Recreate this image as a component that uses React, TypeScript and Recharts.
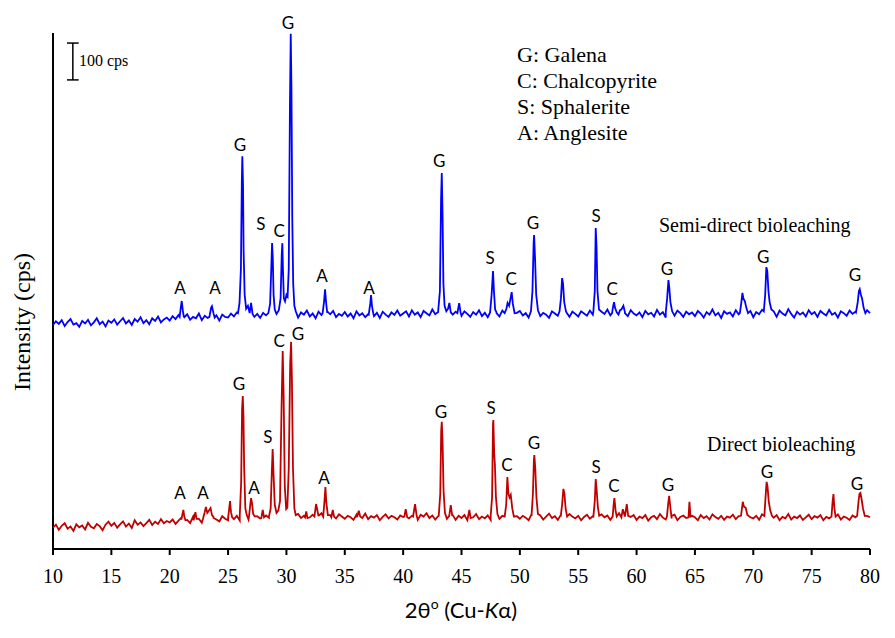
import { ComposedChart, Line, Scatter, XAxis, YAxis, ReferenceLine } from 'recharts'

// scan grid: 2θ from 10 to 80 every 0.25°
const GRID_START = 10
const GRID_STEP = 0.25

// background counts (cps), one row per 5°
const semiBackground = [
  608, 618, 611, 621, 605, 616, 624, 609, 613, 603, 619, 612, 622, 607, 615, 626, 610, 617, 604, 620,
  614, 623, 609, 618, 627, 612, 620, 608, 624, 617, 629, 613, 621, 610, 626, 619, 631, 615, 623, 628,
  620, 632, 624, 635, 618, 629, 637, 622, 630, 626, 639, 621, 633, 627, 641, 625, 634, 620, 636, 630,
  628, 639, 631, 642, 633, 626, 640, 635, 645, 630, 638, 627, 641, 634, 629, 643, 636, 631, 644, 638,
  633, 645, 630, 640, 628, 642, 636, 647, 631, 639, 626, 644, 635, 630, 641, 637, 646, 629, 638, 633,
  643, 631, 639, 626, 645, 634, 640, 629, 637, 648, 632, 641, 627, 644, 636, 630, 642, 635, 647, 633,
  639, 645, 631, 648, 636, 642, 629, 646, 640, 634, 650, 637, 643, 632, 647, 639, 651, 636, 644, 641,
  633, 645, 638, 630, 643, 636, 648, 632, 641, 629, 646, 637, 642, 631, 647, 640, 635, 644, 630, 641,
  646, 634, 640, 628, 643, 637, 649, 632, 641, 636, 627, 645, 639, 633, 648, 636, 642, 630, 644, 638,
  631, 645, 639, 633, 647, 636, 641, 629, 644, 638, 650, 634, 640, 628, 645, 637, 643, 632, 648, 639,
  634, 642, 629, 646, 637, 641, 631, 649, 636, 643, 628, 645, 638, 633, 647, 640, 630, 644, 637, 642,
  632, 646, 639, 628, 643, 636, 650, 634, 641, 627, 645, 638, 642, 631, 648, 637, 644, 633, 640, 646,
  629, 643, 637, 649, 632, 641, 636, 645, 630, 647, 639, 634, 651, 638, 628, 644, 636, 642, 631, 648,
  637, 643, 630, 646, 639, 634, 649, 636, 641, 628, 645, 640, 633, 647, 638, 644, 631, 642, 636, 648,
  640,
]

const directBackground = [
  58, 66, 52, 63, 70, 55, 61, 49, 67, 59, 64, 53, 71, 60, 56, 68, 62, 51, 66, 74,
  63, 71, 58, 67, 75, 61, 69, 57, 78, 66, 72, 62, 70, 79, 65, 74, 68, 81, 70, 76,
  72, 80, 68, 77, 85, 73, 79, 70, 88, 76, 82, 71, 84, 78, 74, 87, 80, 75, 89, 82,
  78, 86, 81, 90, 77, 84, 93, 80, 87, 76, 89, 83, 79, 91, 85, 80, 88, 82, 94, 86,
  83, 91, 79, 88, 95, 84, 90, 78, 86, 93, 81, 89, 97, 85, 80, 92, 87, 83, 94, 88,
  82, 90, 86, 79, 93, 88, 84, 96, 81, 89, 85, 92, 78, 87, 94, 83, 90, 86, 80, 91,
  87, 95, 83, 90, 86, 79, 93, 88, 97, 84, 91, 80, 89, 85, 94, 82, 88, 92, 79, 90,
  84, 92, 78, 89, 86, 95, 81, 88, 83, 91, 79, 94, 87, 82, 90, 85, 80, 93, 86, 89,
  82, 90, 85, 78, 94, 87, 83, 91, 80, 88, 96, 84, 89, 79, 92, 86, 81, 95, 88, 83,
  90, 78, 87, 93, 82, 89, 85, 80, 94, 86, 91, 79, 88, 84, 97, 83, 90, 81, 87, 92,
  79, 88, 84, 92, 77, 86, 90, 81, 95, 85, 80, 89, 83, 93, 78, 87, 91, 84, 80, 90,
  86, 78, 92, 84, 89, 80, 94, 87, 82, 90, 79, 88, 85, 93, 81, 89, 84, 78, 91, 86,
  83, 90, 79, 94, 86, 81, 89, 85, 92, 78, 87, 83, 95, 80, 88, 84, 91, 79, 86, 93,
  81, 89, 85, 92, 78, 87, 83, 90, 84, 94, 80, 88, 85, 79, 91, 86, 82, 89, 84, 90,
  86,
]

// reflections, [2θ, cps]
const semiPeaks: [number, number][][] = [
  [[20.85, 630], [20.97, 660], [21.03, 673], [21.12, 648], [21.2, 632]],
  [[23.4, 630], [23.55, 655], [23.62, 659], [23.75, 640], [23.85, 628]],
  [[25.85, 640], [25.98, 668], [26.1, 760], [26.18, 1000], [26.22, 1066], [26.28, 990], [26.33, 810], [26.42, 690],
   [26.55, 652], [26.7, 660], [26.85, 640], [26.97, 668], [27.1, 638]],
  [[28.45, 640], [28.6, 665], [28.7, 760], [28.77, 830], [28.83, 790], [28.9, 690], [29.0, 650], [29.15, 638],
   [29.35, 648], [29.5, 680], [29.6, 800], [29.65, 830], [29.7, 760], [29.78, 680], [29.88, 672], [30.0, 690],
   [30.1, 685], [30.2, 760], [30.3, 1200], [30.37, 1398], [30.43, 1250], [30.5, 900], [30.58, 720], [30.68, 660],
   [30.8, 645]],
  [[33.1, 640], [33.22, 670], [33.31, 705], [33.4, 668], [33.5, 645]],
  [[37.05, 636], [37.18, 665], [37.25, 689], [37.33, 660], [37.45, 638]],
  [[43.0, 645], [43.15, 700], [43.25, 950], [43.31, 1020], [43.38, 900], [43.45, 720], [43.55, 660], [43.7, 645],
   [43.85, 652], [43.96, 668], [44.08, 642]],
  [[44.65, 640], [44.8, 667], [44.92, 642]],
  [[47.45, 642], [47.58, 690], [47.7, 754], [47.78, 700], [47.88, 650], [48.0, 640]],
  [[48.7, 640], [48.85, 652], [48.95, 668], [49.08, 660], [49.2, 680], [49.3, 697], [49.4, 665], [49.55, 640]],
  [[50.95, 645], [51.08, 700], [51.18, 830], [51.22, 852], [51.3, 790], [51.4, 690], [51.55, 648]],
  [[53.4, 645], [53.52, 680], [53.62, 735], [53.7, 720], [53.8, 670], [53.95, 645]],
  [[56.3, 645], [56.42, 700], [56.5, 871], [56.57, 820], [56.65, 700], [56.78, 650]],
  [[57.9, 640], [58.0, 660], [58.07, 670], [58.15, 655], [58.3, 642], [58.45, 636], [58.58, 648], [58.7, 650],
   [58.87, 660], [59.0, 640]],
  [[62.5, 642], [62.62, 680], [62.73, 730], [62.8, 710], [62.9, 670], [63.05, 645]],
  [[68.85, 640], [68.98, 670], [69.07, 695], [69.15, 680], [69.28, 672], [69.4, 655], [69.55, 640]],
  [[70.9, 645], [71.02, 690], [71.12, 765], [71.2, 755], [71.3, 700], [71.4, 670], [71.55, 650]],
  [[78.8, 642], [78.95, 670], [79.05, 700], [79.12, 705], [79.22, 690], [79.32, 680], [79.45, 655], [79.6, 640]],
]

const directPeaks: [number, number][][] = [
  [[21.0, 80], [21.1, 96], [21.17, 106], [21.25, 88], [21.35, 78]],
  [[22.05, 78], [22.2, 100], [22.3, 82]],
  [[22.85, 82], [23.0, 100], [23.1, 114], [23.22, 98], [23.35, 104], [23.5, 111], [23.62, 92], [23.75, 84]],
  [[25.0, 84], [25.1, 110], [25.17, 130], [25.25, 100], [25.35, 86]],
  [[26.0, 90], [26.12, 180], [26.2, 380], [26.26, 415], [26.32, 360], [26.38, 220], [26.48, 110], [26.6, 92]],
  [[26.8, 90], [26.9, 120], [26.97, 138], [27.05, 125], [27.15, 95], [27.3, 88]],
  [[27.85, 84], [27.97, 106], [28.08, 86]],
  [[28.5, 88], [28.65, 110], [28.75, 210], [28.82, 271], [28.9, 200], [29.0, 120], [29.15, 98], [29.3, 104],
   [29.45, 130], [29.58, 380], [29.68, 537], [29.76, 420], [29.86, 170], [29.98, 108], [30.08, 112], [30.2, 220],
   [30.32, 500], [30.4, 562], [30.47, 460], [30.56, 220], [30.68, 110], [30.8, 92]],
  [[31.6, 86], [31.7, 102], [31.8, 84]],
  [[32.4, 88], [32.54, 122], [32.62, 110], [32.75, 90]],
  [[33.15, 88], [33.26, 130], [33.34, 168], [33.42, 125], [33.55, 92]],
  [[33.85, 86], [33.97, 106], [34.08, 88]],
  [[36.05, 86], [36.2, 104], [36.32, 88]],
  [[40.1, 88], [40.22, 108], [40.35, 86]],
  [[40.85, 88], [41.02, 122], [41.15, 92]],
  [[43.05, 90], [43.18, 150], [43.26, 320], [43.31, 345], [43.38, 290], [43.46, 160], [43.58, 98]],
  [[43.95, 90], [44.08, 119], [44.2, 92]],
  [[45.55, 86], [45.67, 106], [45.78, 84]],
  [[47.5, 90], [47.62, 140], [47.7, 340], [47.73, 350], [47.8, 260], [47.86, 230], [47.95, 140], [48.08, 95]],
  [[48.7, 88], [48.83, 120], [48.93, 195], [49.02, 150], [49.12, 140], [49.22, 147], [49.35, 110], [49.5, 88]],
  [[51.0, 90], [51.12, 150], [51.2, 240], [51.24, 255], [51.32, 220], [51.42, 140], [51.55, 95]],
  [[53.5, 88], [53.62, 120], [53.73, 163], [53.82, 150], [53.92, 110], [54.05, 88]],
  [[56.3, 88], [56.42, 130], [56.5, 190], [56.58, 160], [56.68, 115], [56.8, 90]],
  [[57.95, 88], [58.05, 125], [58.1, 138], [58.2, 105], [58.3, 88]],
  [[58.7, 86], [58.82, 108], [59.0, 88], [59.16, 122], [59.28, 90]],
  [[62.6, 88], [62.7, 120], [62.79, 144], [62.88, 118], [63.0, 90]],
  [[64.45, 86], [64.53, 128], [64.62, 88]],
  [[68.95, 90], [69.1, 128], [69.2, 115], [69.35, 112], [69.5, 92]],
  [[70.95, 90], [71.05, 140], [71.14, 182], [71.22, 170], [71.32, 130], [71.45, 105], [71.6, 90]],
  [[76.7, 88], [76.8, 130], [76.87, 149], [76.95, 110], [77.05, 88]],
  [[78.9, 90], [79.02, 130], [79.1, 150], [79.18, 152], [79.28, 135], [79.4, 110], [79.55, 90]],
]

// phase letters: [2θ, cps, letter]
const semiLabels: [number, number, string][] = [
  [20.88, 711, 'A'], [23.88, 711, 'A'], [26.02, 1099, 'G'], [27.82, 882, 'S'], [29.37, 863, 'C'],
  [30.14, 1430, 'G'], [33.05, 743, 'A'], [37.08, 711, 'A'], [43.08, 1053, 'G'], [47.45, 790, 'S'],
  [49.25, 733, 'C'], [51.13, 887, 'G'], [56.53, 906, 'S'], [57.9, 708, 'C'], [62.61, 762, 'G'],
  [70.84, 795, 'G'], [78.72, 746, 'G'],
]

const directLabels: [number, number, string][] = [
  [20.88, 152, 'A'], [22.85, 152, 'A'], [25.94, 450, 'G'], [27.22, 168, 'A'], [28.42, 304, 'S'],
  [29.37, 567, 'C'], [30.99, 586, 'G'], [33.22, 193, 'A'], [43.25, 374, 'G'], [47.53, 385, 'S'],
  [48.9, 228, 'C'], [51.21, 290, 'G'], [56.53, 225, 'S'], [58.07, 171, 'C'], [62.69, 174, 'G'],
  [71.18, 209, 'G'], [78.89, 179, 'G'],
]

const xTicks = [10, 15, 20, 25, 30, 35, 40, 45, 50, 55, 60, 65, 70, 75, 80]
const phaseKey = ['G: Galena', 'C: Chalcopyrite', 'S: Sphalerite', 'A: Anglesite']
const scaleBar = { x: 11.7, from: 1273, to: 1373, half: 0.5 }

function buildSeries(background: number[], peaks: [number, number][][]) {
  const pts = background.map((y, i) => ({ x: GRID_START + i * GRID_STEP, y }))
  const kept = pts.filter((p) => !peaks.some((pk) => p.x > pk[0][0] && p.x < pk[pk.length - 1][0]))
  const extra = peaks.flat().map(([x, y]) => ({ x, y }))
  return [...kept, ...extra].sort((a, b) => a.x - b.x)
}

const semiData = buildSeries(semiBackground, semiPeaks)
const directData = buildSeries(directBackground, directPeaks)
const toLabelData = (rows: [number, number, string][]) => rows.map(([x, y, t]) => ({ x, y, t }))

const serif = '"Liberation Serif", "Times New Roman", serif'
const sans = 'Lato, "Open Sans", sans-serif'

const LetterShape = (props: any) => (
  <text x={props.cx} y={props.cy} textAnchor="middle" dominantBaseline="central"
    fontFamily={sans} fontSize={17} fill="#000">
    {props.payload.t}
  </text>
)

export default function App() {
  return (
    <div style={{ position: 'absolute', left: 0, top: 0, width: 895, height: 638, background: '#fff' }}>
      <ComposedChart width={895} height={638} margin={{ top: 11, right: 25, bottom: 49, left: 53 }}>
        <XAxis type="number" dataKey="x" domain={[10, 80]} ticks={xTicks} height={40}
          axisLine={{ stroke: '#000', strokeWidth: 2 }} tickLine={{ stroke: '#000', strokeWidth: 2 }}
          tickSize={6} tickMargin={14}
          tick={{ fontFamily: serif, fontSize: 20, fill: '#000' }} />
        <YAxis type="number" dataKey="y" domain={[0, 1460]} hide />
        <ReferenceLine segment={[{ x: 10, y: 0 }, { x: 10, y: 1400 }]} stroke="#000" strokeWidth={2} />
        <ReferenceLine segment={[{ x: scaleBar.x, y: scaleBar.from }, { x: scaleBar.x, y: scaleBar.to }]} stroke="#000" strokeWidth={1.5} />
        <ReferenceLine segment={[{ x: scaleBar.x - scaleBar.half, y: scaleBar.from }, { x: scaleBar.x + scaleBar.half, y: scaleBar.from }]} stroke="#000" strokeWidth={1.5} />
        <ReferenceLine segment={[{ x: scaleBar.x - scaleBar.half, y: scaleBar.to }, { x: scaleBar.x + scaleBar.half, y: scaleBar.to }]} stroke="#000" strokeWidth={1.5} />
        <Line data={directData} dataKey="y" type="linear" stroke="#C00000" strokeWidth={1.8} dot={false} isAnimationActive={false} />
        <Line data={semiData} dataKey="y" type="linear" stroke="#0000FF" strokeWidth={1.8} dot={false} isAnimationActive={false} />
        <Scatter data={toLabelData(semiLabels)} dataKey="y" shape={LetterShape} isAnimationActive={false} />
        <Scatter data={toLabelData(directLabels)} dataKey="y" shape={LetterShape} isAnimationActive={false} />
      </ComposedChart>
      <svg width={895} height={638} style={{ position: 'absolute', left: 0, top: 0, pointerEvents: 'none' }}>
        <text x={79} y={66} fontFamily={serif} fontSize={16} fill="#000">100 cps</text>
        {phaseKey.map((s, i) => (
          <text key={s} x={517} y={62 + i * 26} fontFamily={serif} fontSize={22} fill="#000">{s}</text>
        ))}
        <text x={659} y={232} fontFamily={serif} fontSize={20} fill="#000">Semi-direct bioleaching</text>
        <text x={707} y={451} fontFamily={serif} fontSize={20} fill="#000">Direct bioleaching</text>
        <text x={461} y={618} textAnchor="middle" fontFamily={sans} fontSize={22} fill="#000">
          2θ<tspan fontSize={14} dy={-9}>o</tspan><tspan dy={9}> (Cu-</tspan><tspan fontStyle="italic">K</tspan>α)
        </text>
        <text x={30} y={322} textAnchor="middle" transform="rotate(-90 30 322)" fontFamily={serif} fontSize={24} fill="#000">
          Intensity (cps)
        </text>
      </svg>
    </div>
  )
}
